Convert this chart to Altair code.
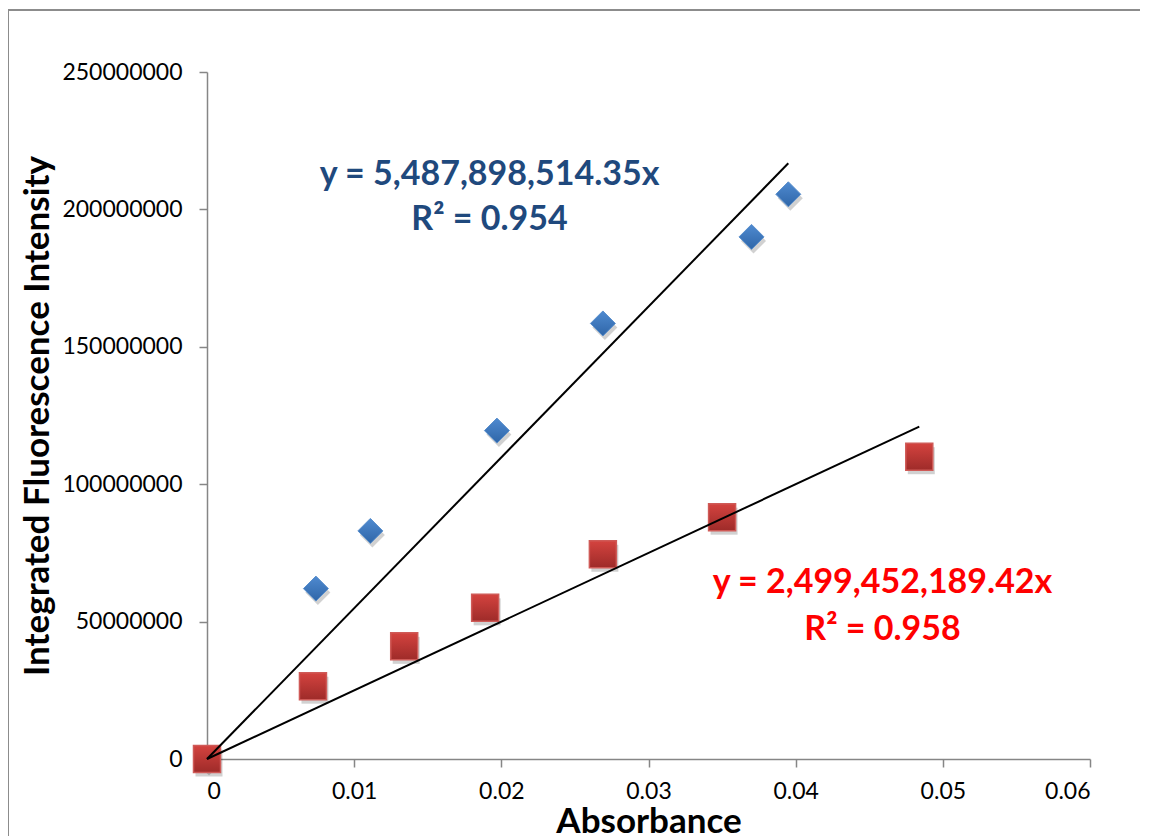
import altair as alt
import pandas as pd

# ---- data ----
abs_blue = [0.0, 0.0074, 0.0111, 0.0197, 0.0269, 0.0370, 0.0395]
fl_blue = [0, 62.0e6, 83.0e6, 119.5e6, 158.5e6, 190.0e6, 205.5e6]
abs_red = [0.0, 0.0072, 0.0134, 0.0189, 0.0269, 0.0350, 0.0484]
fl_red = [0, 26.5e6, 41.0e6, 55.0e6, 74.5e6, 88.0e6, 110.0e6]

slope_blue = 5487898514.35
slope_red = 2499452189.42

eq_blue = ["y = 5,487,898,514.35x", "R² = 0.954"]
eq_red = ["y = 2,499,452,189.42x", "R² = 0.958"]
# annotation anchor points (data coordinates)
eq_blue_x = [0.0192, 0.0192]
eq_blue_y = [212.5e6, 196.0e6]
eq_red_x = [0.0459, 0.0459]
eq_red_y = [64.0e6, 47.0e6]

x_ticks = [0, 0.01, 0.02, 0.03, 0.04, 0.05, 0.06]
y_ticks = [0, 50e6, 100e6, 150e6, 200e6, 250e6]

FONT = "Lato"

blue_df = pd.DataFrame({"x": abs_blue, "y": fl_blue})
red_df = pd.DataFrame({"x": abs_red, "y": fl_red})
trend_df = pd.DataFrame({
    "x": [0, max(abs_blue), 0, max(abs_red)],
    "y": [0, slope_blue * max(abs_blue), 0, slope_red * max(abs_red)],
    "s": ["b", "b", "r", "r"],
})
ann_blue = pd.DataFrame({"x": eq_blue_x, "y": eq_blue_y, "t": eq_blue})
ann_red = pd.DataFrame({"x": eq_red_x, "y": eq_red_y, "t": eq_red})

xs = alt.Scale(domain=[0, 0.06], nice=False)
ys = alt.Scale(domain=[0, 250e6], nice=False)

X = alt.X("x:Q", scale=xs, title="Absorbance",
          axis=alt.Axis(values=x_ticks, format="~g", titlePadding=1))
Y = alt.Y("y:Q", scale=ys, title="Integrated Fluorescence Intensity",
          axis=alt.Axis(values=y_ticks, format="d", titlePadding=6))

# chart-area frame (only its top and left edges fall inside the picture)
frame_df = pd.DataFrame({"a": [0]})
frame_top = alt.Chart(frame_df).mark_rule(color="#8c8c8c", strokeWidth=2).encode(
    x=alt.value(-199), x2=alt.value(1000), y=alt.value(-62))
frame_left = alt.Chart(frame_df).mark_rule(color="#8c8c8c", strokeWidth=2).encode(
    x=alt.value(-199), y=alt.value(-62), y2=alt.value(900))

blue_grad = alt.LinearGradient(
    gradient="linear", x1=0, y1=0, x2=0, y2=1,
    stops=[alt.GradientStop(color="#4f8ad0", offset=0),
           alt.GradientStop(color="#2f66a8", offset=1)])
red_grad = alt.LinearGradient(
    gradient="linear", x1=0, y1=0, x2=0, y2=1,
    stops=[alt.GradientStop(color="#d4433f", offset=0),
           alt.GradientStop(color="#9e2b29", offset=1)])

blue_shadow = alt.Chart(blue_df).mark_point(
    shape="diamond", size=625, filled=True, color="#000000", opacity=0.18,
    xOffset=2, yOffset=4).encode(x=X, y=Y)
blue_pts = alt.Chart(blue_df).mark_point(
    shape="diamond", size=625, filled=True, fill=blue_grad, opacity=1,
    stroke="#5a8fcc", strokeWidth=1).encode(x=X, y=Y)
red_shadow = alt.Chart(red_df).mark_point(
    shape="square", size=729, filled=True, color="#000000", opacity=0.18,
    xOffset=2, yOffset=4).encode(x=X, y=Y)
red_pts = alt.Chart(red_df).mark_point(
    shape="square", size=729, filled=True, fill=red_grad, opacity=1,
    stroke="#cf5a57", strokeWidth=1.5).encode(x=X, y=Y)

trend = alt.Chart(trend_df).mark_line(color="black", strokeWidth=2).encode(
    x=X, y=Y, detail="s:N")

t_blue = alt.Chart(ann_blue).mark_text(
    font=FONT, fontSize=34, fontWeight="bold", color="#1f497d", align="center",
    baseline="middle").encode(x=X, y=Y, text="t:N")
t_red = alt.Chart(ann_red).mark_text(
    font=FONT, fontSize=34, fontWeight="bold", color="#ff0000", align="center",
    baseline="middle").encode(x=X, y=Y, text="t:N")

chart = alt.layer(
    frame_top, frame_left, blue_shadow, blue_pts, red_shadow, red_pts, trend,
    t_blue, t_red
).properties(
    width=883, height=687,
    autosize=alt.AutoSizeParams(type="none"),
    padding={"left": 199, "top": 64, "right": 50, "bottom": 77},
).configure_view(stroke=None).configure_axis(
    grid=False, domainColor="#868686", domainWidth=1.5, tickColor="#868686",
    tickSize=8, tickWidth=1.5, labelFont=FONT, labelFontSize=23,
    labelColor="black", titleFont=FONT, titleFontSize=35, titleFontWeight="bold",
    titleColor="black",
).configure_axisX(labelPadding=13).configure_axisY(labelPadding=17)

chart.save("out.html", embed_options={"renderer": "svg", "actions": False})
